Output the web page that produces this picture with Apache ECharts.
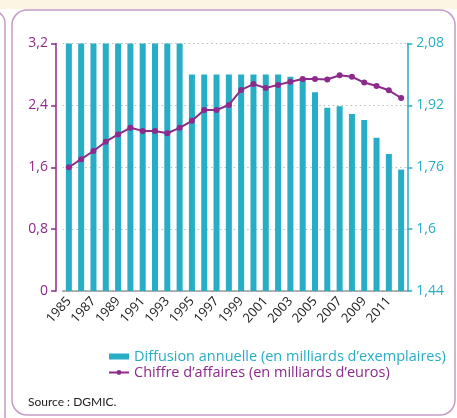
<!DOCTYPE html>
<html>
<head>
<meta charset="utf-8">
<script src="https://cdn.jsdelivr.net/npm/echarts@6/dist/echarts.min.js"></script>
<style>
html,body{margin:0;padding:0;background:#fff;}
#c{width:457px;height:418px;}
</style>
</head>
<body>
<div id="c"></div>
<script>
const years = ['1985','1986','1987','1988','1989','1990','1991','1992','1993','1994','1995','1996','1997','1998','1999','2000','2001','2002','2003','2004','2005','2006','2007','2008','2009','2010','2011','2012'];
const diffusion = [3.2,3.2,3.2,3.2,3.2,3.2,3.2,3.2,3.2,3.2,2.8,2.8,2.8,2.8,2.8,2.8,2.8,2.8,2.77,2.75,2.57,2.37,2.39,2.29,2.21,1.98,1.77,1.57];
const chiffre = [1.760,1.781,1.802,1.826,1.845,1.862,1.854,1.854,1.848,1.862,1.880,1.908,1.908,1.921,1.960,1.975,1.965,1.973,1.981,1.988,1.988,1.987,1.998,1.994,1.979,1.970,1.959,1.939];
const leftTicks = {min:0, max:3.2, interval:0.8};
const rightTicks = {min:1.44, max:2.08, interval:0.16};
const nameDiff = 'Diffusion annuelle (en milliards d\u2019exemplaires)';
const nameCA = 'Chiffre d\u2019affaires (en milliards d\u2019euros)';

const TEAL = '#27adc6';
const PURPLE = '#8c2b8b';
const FONT = 'Open Sans';
const fmt = v => String(+v.toFixed(2)).replace('.', ',');

const chart = echarts.init(document.getElementById('c'), null, {renderer:'canvas'});
chart.setOption({
  animation:false,
  backgroundColor:'#fff',
  textStyle:{fontFamily:FONT},
  grid:{left:62.7, right:49.7, top:43.5, bottom:127, containLabel:false},
  graphic:[
    {type:'rect', z:-10, shape:{x:0,y:0,width:457,height:9}, style:{fill:'#fdf5e4'}},
    {type:'rect', z:-9, shape:{x:-30,y:11,width:35,height:430,r:12}, style:{fill:'#fff',stroke:'#c59cc5',lineWidth:1.5}},
    {type:'rect', z:-9, shape:{x:12,y:10,width:443,height:405,r:15}, style:{fill:'#fff',stroke:'#c59cc5',lineWidth:1.5}},
    {type:'text', left:28, top:396, style:{text:'Source : DGMIC.', fill:'#222', font:'12px "Lato"'}}
  ],
  legend:{
    orient:'vertical', left:103, top:344, itemGap:1, itemWidth:20, itemHeight:6,
    textStyle:{fontSize:14.5, fontFamily:FONT},
    data:[
      {name:nameDiff, icon:'rect', textStyle:{color:TEAL}},
      {name:nameCA, textStyle:{color:PURPLE}}
    ]
  },
  xAxis:{
    type:'category', data:years, boundaryGap:true,
    axisLine:{lineStyle:{color:'#9a9a9a', width:1.5}},
    axisTick:{alignWithLabel:true, interval:1, length:4, lineStyle:{color:'#9a9a9a'}},
    axisLabel:{interval:1, rotate:48, margin:8, color:'#1a1a1a', fontSize:13, fontFamily:FONT}
  },
  yAxis:[
    {type:'value', position:'left', offset:6.7, min:leftTicks.min, max:leftTicks.max, interval:leftTicks.interval,
     axisLine:{show:true, lineStyle:{color:PURPLE, width:1.5}},
     axisTick:{show:true, length:5, lineStyle:{color:PURPLE, width:1.5}},
     axisLabel:{color:PURPLE, fontSize:14, margin:8, formatter:fmt, fontFamily:FONT},
     splitLine:{show:true, lineStyle:{color:'#bbb', type:[1.5,3], width:1}}
    },
    {type:'value', position:'right', min:rightTicks.min, max:rightTicks.max, interval:rightTicks.interval,
     axisLine:{show:true, lineStyle:{color:TEAL, width:1.5}},
     axisTick:{show:true, length:5, lineStyle:{color:TEAL, width:1.5}},
     axisLabel:{color:TEAL, fontSize:14, margin:9, formatter:fmt, fontFamily:FONT},
     splitLine:{show:false}
    }
  ],
  series:[
    {name:nameDiff, type:'bar', yAxisIndex:0, data:diffusion, barWidth:6, itemStyle:{color:TEAL}},
    {name:nameCA, type:'line', yAxisIndex:1, data:chiffre, symbol:'circle', symbolSize:6,
     lineStyle:{color:PURPLE, width:2}, itemStyle:{color:PURPLE}}
  ]
});
</script>
</body>
</html>
